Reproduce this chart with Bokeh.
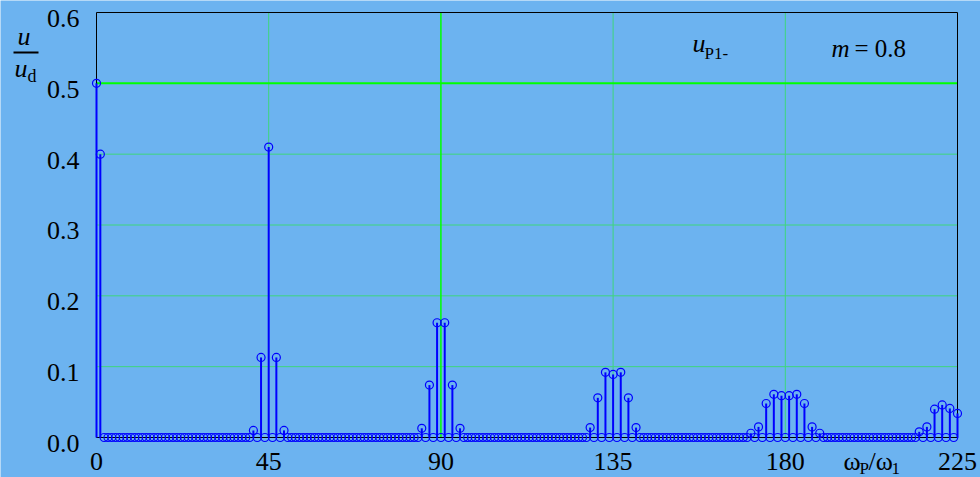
from bokeh.plotting import figure
from bokeh.models import Range1d, Label, BoxAnnotation, ColumnDataSource
from bokeh.embed import file_html
from bokeh.resources import INLINE

# ---- data ----
orders = list(range(0, 226))               # harmonic order omega_P/omega_1
peak_orders = [0, 1,
               41, 43, 45, 47, 49,
               85, 87, 89, 91, 93, 95,
               129, 131, 133, 135, 137, 139, 141,
               171, 173, 175, 177, 179, 181, 183, 185, 187, 189,
               215, 217, 219, 221, 223, 225]
peak_values = [0.5, 0.4,
               0.010, 0.113, 0.410, 0.113, 0.010,
               0.013, 0.074, 0.162, 0.162, 0.074, 0.013,
               0.014, 0.056, 0.092, 0.089, 0.092, 0.056, 0.014,
               0.006, 0.015, 0.048, 0.061, 0.059, 0.059, 0.061, 0.048, 0.015, 0.006,
               0.008, 0.015, 0.040, 0.046, 0.041, 0.034]
x_ticks = [0, 45, 90, 135, 180, 225]
x_tick_labels = ["0", "45", "90", "135", "180", "225"]
y_ticks = [0.0, 0.1, 0.2, 0.3, 0.4, 0.5, 0.6]
y_tick_labels = ["0.0", "0.1", "0.2", "0.3", "0.4", "0.5", "0.6"]
x_grid_thin = [45, 135, 180]
x_grid_bright = [90]
y_grid_thin = [0.1, 0.2, 0.3, 0.4]
y_grid_bright = [0.5]

lookup = dict(zip(peak_orders, peak_values))
amplitudes = [lookup.get(h, 0.0) for h in orders]

# ---- layout (pixels) ----
W, H = 980, 477
FL, FR, FT, FB = 96, 957, 12, 437      # plotting box edges in the canvas
XMIN, XMAX, YMIN, YMAX = 0, 225, 0.0, 0.6
SX = (FR - FL) / (XMAX - XMIN)
SY = (FB - FT) / (YMAX - YMIN)
BASE_FIX = 0.35                         # measured text baseline correction (em)

def px2x(px):
    return XMIN + (px - FL) / SX

def py2y(py):
    return YMIN + (FB - py) / SY

BG = "#6CB3F0"
FONT = "Liberation Serif"
THIN = "#3ED67C"
BRIGHT = "#00FF00"
BLUE = "#0000FF"

p = figure(width=W, height=H, output_backend="svg", toolbar_location=None,
           x_range=Range1d(px2x(0), px2x(W)), y_range=Range1d(py2y(H), py2y(0)),
           x_axis_location=None, y_axis_location=None,
           min_border=0, min_border_left=0, min_border_right=0,
           min_border_top=0, min_border_bottom=0)
p.background_fill_color = BG
p.border_fill_color = BG
p.outline_line_color = None
p.grid.visible = False

# grid lines (limited to the plotting box)
p.segment(x0=x_grid_thin, y0=[YMIN] * len(x_grid_thin), x1=x_grid_thin, y1=[YMAX] * len(x_grid_thin),
          line_color=THIN, line_width=1)
p.segment(x0=[XMIN] * len(y_grid_thin), y0=y_grid_thin, x1=[XMAX] * len(y_grid_thin), y1=y_grid_thin,
          line_color=THIN, line_width=1)
p.segment(x0=x_grid_bright, y0=[YMIN], x1=x_grid_bright, y1=[YMAX], line_color=BRIGHT, line_width=1.5)
p.segment(x0=[XMIN], y0=y_grid_bright, x1=[XMAX], y1=y_grid_bright, line_color=BRIGHT, line_width=2)

# plotting box outline
p.quad(left=[XMIN], right=[XMAX], bottom=[YMIN], top=[YMAX], fill_color=None,
       line_color="black", line_width=1)

# stems and markers
src = ColumnDataSource(dict(x=orders, y=amplitudes))
stems = ColumnDataSource(dict(x=peak_orders, y=peak_values, z=[YMIN] * len(peak_orders)))
p.segment(x0="x", y0="z", x1="x", y1="y", source=stems, line_color=BLUE, line_width=2)
p.scatter(x="x", y="y", source=src, marker="circle", size=8, fill_color=None,
          line_color=BLUE, line_width=1.2)

# tick labels
TS = 26
for v, t in zip(y_ticks, y_tick_labels):
    p.add_layout(Label(x=XMIN, y=v, text=t, x_offset=-17, y_offset=-15 + BASE_FIX * TS,
                       text_align="right", text_baseline="alphabetic",
                       text_font=FONT, text_font_size=f"{TS}px", text_color="black"))
for v, t in zip(x_ticks, x_tick_labels):
    p.add_layout(Label(x=v, y=YMIN, text=t, x_offset=0, y_offset=-(470 - FB) + BASE_FIX * TS,
                       text_align="center", text_baseline="alphabetic",
                       text_font=FONT, text_font_size=f"{TS}px", text_color="black"))

def plabel(px, py, text, size, style="normal"):
    p.add_layout(Label(x=px2x(px), y=py2y(py), y_offset=BASE_FIX * size, text=text,
                       text_align="left", text_baseline="alphabetic",
                       text_font=FONT, text_font_size=f"{size}px", text_font_style=style,
                       text_color="black"))

# y axis label u / u_d
plabel(17, 45, "u", 26, "italic")
plabel(14, 77, "u", 26, "italic")
plabel(27, 82, "d", 18)
p.add_layout(BoxAnnotation(left=px2x(13), right=px2x(38), bottom=py2y(53), top=py2y(51),
                           fill_color="black", fill_alpha=1, line_color=None))

# x axis label omega_P / omega_1
plabel(843, 470, "ω", 26)
plabel(859, 474, "P", 17)
plabel(868, 470, "/ω", 26)
plabel(891, 474, "1", 17)

# annotations
plabel(692, 52, "u", 26, "italic")
plabel(704, 59, "P1-", 17)
plabel(831, 57, "m", 25, "italic")
plabel(854, 57, "= 0.8", 25)

open("out.html", "w").write(file_html(p, INLINE))
